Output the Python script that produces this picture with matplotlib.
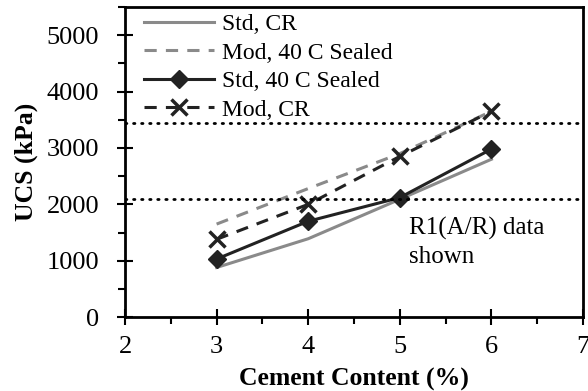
import matplotlib
matplotlib.use("Agg")
import matplotlib.pyplot as plt
from matplotlib.ticker import MultipleLocator

plt.rcParams['font.family'] = ['Liberation Serif', 'DejaVu Serif']

cement = [3, 4, 5, 6]
std_cr = [880, 1390, 2090, 2800]
mod_40c = [1650, 2280, 2900, 3650]
std_40c = [1030, 1700, 2120, 2980]
mod_cr = [1380, 2000, 2850, 3650]
limits = [3450, 2090]

fig = plt.figure(figsize=(5.88, 3.91), dpi=100)
ax = fig.add_axes([0.2126, 0.189, 0.7789, 0.793])

ax.plot(cement, std_cr, color='#8a8a8a', lw=2.2, label='Std, CR')
ax.plot(cement, mod_40c, color='#8a8a8a', lw=2.2, ls=(0, (4, 3)), label='Mod, 40 C Sealed')
ax.plot(cement, std_40c, color='#222222', lw=2.2, marker='D', ms=9, label='Std, 40 C Sealed')
ax.plot(cement, mod_cr, color='#222222', lw=2.2, ls=(0, (4, 3)), marker='x', ms=11, mew=2.5,
        label='Mod, CR')
for y in limits:
    ax.axhline(y, color='black', lw=2, ls=(0, (0.5, 2.4)), dash_capstyle='round')

ax.set_xlim(2, 7)
ax.set_ylim(0, 5500)
ax.xaxis.set_major_locator(MultipleLocator(1))
ax.xaxis.set_minor_locator(MultipleLocator(0.5))
ax.yaxis.set_major_locator(MultipleLocator(1000))
ax.yaxis.set_minor_locator(MultipleLocator(500))
ax.tick_params(which='major', direction='inout', length=11, width=1.5, labelsize=19)
ax.tick_params(which='minor', direction='out', length=5, width=1.5)
ax.tick_params(axis='x', which='major', pad=8)
ax.tick_params(axis='y', which='major', pad=13)
for s in ax.spines.values():
    s.set_linewidth(2)

ax.set_xlabel('Cement Content (%)', fontsize=18.5, fontweight='bold', labelpad=7)
ax.set_ylabel('UCS (kPa)', fontsize=18.5, fontweight='bold', labelpad=6)

ax.text(5.1, 1320, 'R1(A/R) data\nshown', fontsize=18, va='center', ha='left', linespacing=1.35)

leg = ax.legend(loc='upper left', bbox_to_anchor=(0.02, 1.01), frameon=False, fontsize=17,
                handlelength=3.0, handletextpad=0.3, labelspacing=0.3, borderaxespad=0)

fig.savefig('out.png', dpi=100)
